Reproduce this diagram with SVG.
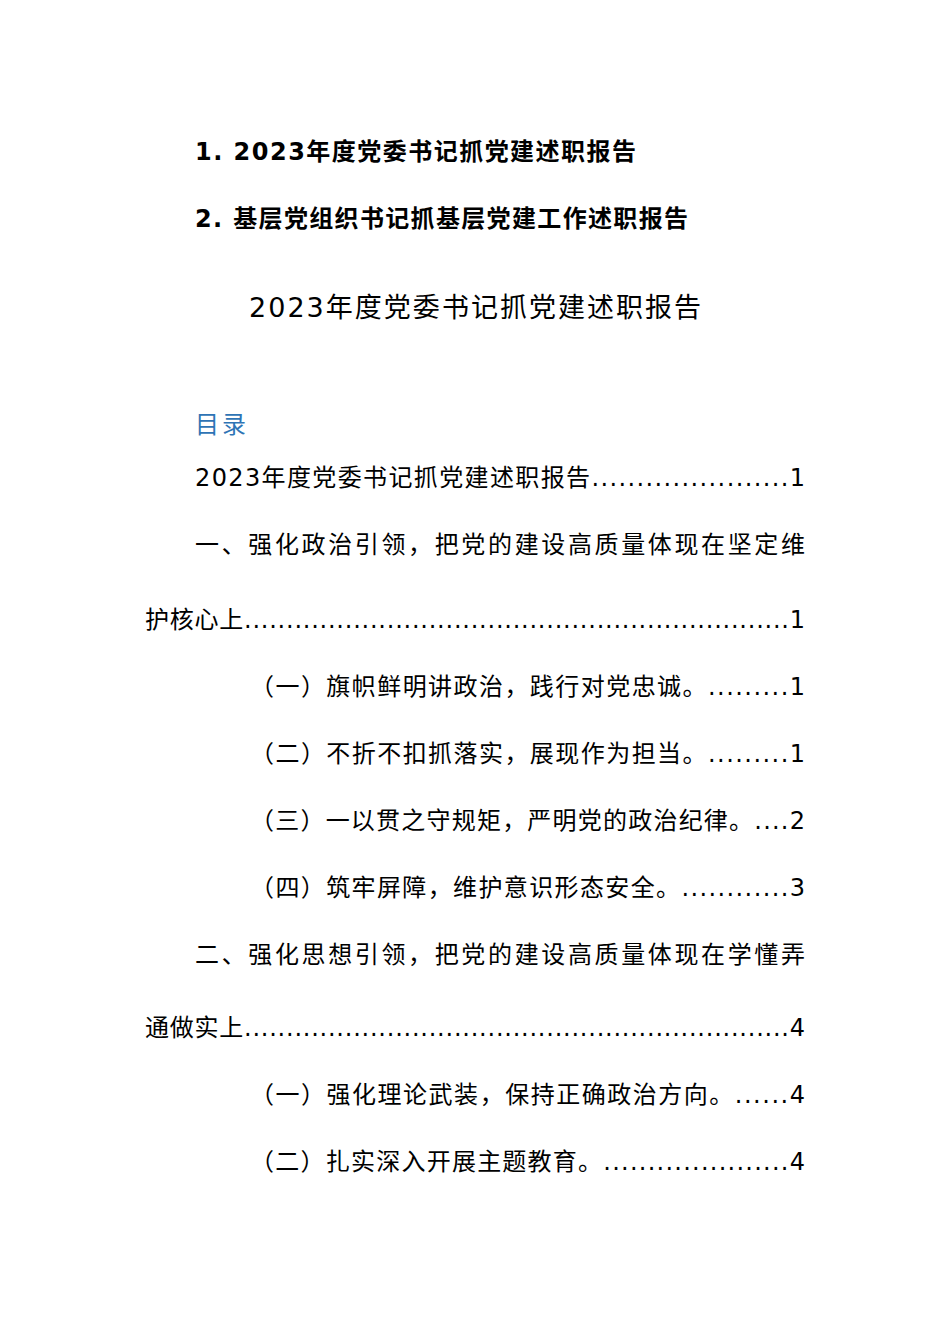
<svg xmlns="http://www.w3.org/2000/svg" width="950" height="1344" viewBox="0 0 950 1344">
<style>
text{font-family:"DejaVu Sans","Noto Sans CJK SC",sans-serif;font-size:24px;fill:#000}
.h{font-weight:bold}
.t{font-size:27px}
.m{fill:#2E74B5}
</style>
<rect width="950" height="1344" fill="#fff"/>
<text class="h" x="195" y="160" textLength="441" lengthAdjust="spacing">1. 2023年度党委书记抓党建述职报告</text>
<text class="h" x="195" y="227" textLength="493" lengthAdjust="spacing">2. 基层党组织书记抓基层党建工作述职报告</text>
<text class="t" x="249" y="317" textLength="452" lengthAdjust="spacing">2023年度党委书记抓党建述职报告</text>
<text class="m" x="195" y="433" textLength="51" lengthAdjust="spacing">目录</text>
<text x="195" y="486" textLength="610" lengthAdjust="spacing">2023年度党委书记抓党建述职报告......................1</text>
<text x="195" y="553" textLength="610" lengthAdjust="spacing">一、强化政治引领，把党的建设高质量体现在坚定维</text>
<text x="145" y="628" textLength="660" lengthAdjust="spacing">护核心上.................................................................1</text>
<text x="250" y="695" textLength="555" lengthAdjust="spacing">（一）旗帜鲜明讲政治，践行对党忠诚。.........1</text>
<text x="250" y="762" textLength="555" lengthAdjust="spacing">（二）不折不扣抓落实，展现作为担当。.........1</text>
<text x="250" y="829" textLength="555" lengthAdjust="spacing">（三）一以贯之守规矩，严明党的政治纪律。....2</text>
<text x="250" y="896" textLength="555" lengthAdjust="spacing">（四）筑牢屏障，维护意识形态安全。............3</text>
<text x="195" y="963" textLength="610" lengthAdjust="spacing">二、强化思想引领，把党的建设高质量体现在学懂弄</text>
<text x="145" y="1036" textLength="660" lengthAdjust="spacing">通做实上.................................................................4</text>
<text x="250" y="1103" textLength="555" lengthAdjust="spacing">（一）强化理论武装，保持正确政治方向。......4</text>
<text x="250" y="1170" textLength="555" lengthAdjust="spacing">（二）扎实深入开展主题教育。.....................4</text>
</svg>
